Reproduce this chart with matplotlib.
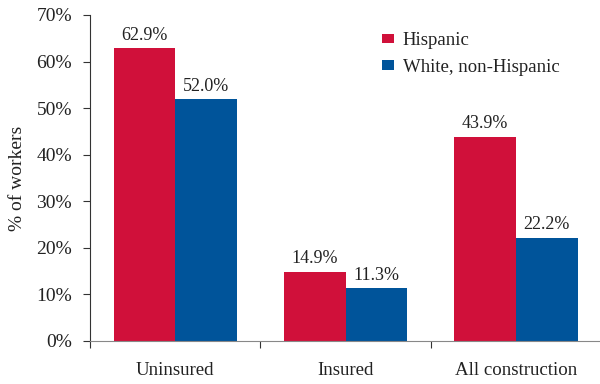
import matplotlib
matplotlib.use("Agg")
import matplotlib.pyplot as plt
import numpy as np

categories = ["Uninsured", "Insured", "All construction"]
hispanic = [62.9, 14.9, 43.9]
white = [52.0, 11.3, 22.2]
series_names = ["Hispanic", "White, non-Hispanic"]
yticks = [0, 10, 20, 30, 40, 50, 60, 70]

FAM = "Liberation Serif"
plt.rcParams['font.family'] = 'serif'
plt.rcParams['font.serif'] = [FAM, 'DejaVu Serif']
red = "#D0103A"
blue = "#00549A"
tc = "#222222"

fig = plt.figure(figsize=(6, 3.84), dpi=100)
ax = fig.add_axes([0.15, 0.112, 0.852, 0.849])
x = np.arange(len(categories))
w = 0.362
b1 = ax.bar(x - w/2, hispanic, w, color=red, label=series_names[0])
b2 = ax.bar(x + w/2, white, w, color=blue, label=series_names[1])
for bars, vals in ((b1, hispanic), (b2, white)):
    for r, v in zip(bars, vals):
        ax.annotate(f"{v:.1f}%", (r.get_x() + r.get_width()/2, v), xytext=(0, 3),
                    textcoords="offset points", ha="center", va="bottom",
                    fontsize=13, color=tc, family=FAM)

ax.set_xlim(-0.5, 2.5)
ax.set_ylim(0, 70)
ax.set_yticks(yticks)
ax.set_yticklabels([f"{t}%" for t in yticks], fontsize=14, family=FAM, color=tc)
ax.set_xticks([-0.5, 0.5, 1.5])
ax.set_xticklabels([])
ax.set_xticks(x, minor=True)
ax.set_xticklabels(categories, minor=True, fontsize=13.6, family=FAM, color=tc)
ax.tick_params(axis="x", which="minor", length=0, pad=15)
ax.tick_params(axis="x", which="major", length=5, direction="out", color="#333333")
ax.tick_params(axis="y", length=5, direction="out", color="#333333", pad=8)
ax.set_ylabel("% of workers", fontsize=14, labelpad=7, family=FAM, color=tc)
for s in ["top", "right"]:
    ax.spines[s].set_visible(False)
ax.spines["left"].set_color("#333333")
ax.spines["bottom"].set_color("#888888")
leg = ax.legend(loc="upper left", bbox_to_anchor=(0.572, 0.947), frameon=False,
                prop={"family": FAM, "size": 13.5}, borderpad=0, borderaxespad=0,
                handlelength=0.64, handleheight=0.43, handletextpad=0.45, labelspacing=0.5)
for t in leg.get_texts():
    t.set_color(tc)
fig.savefig("out.png", dpi=100)
